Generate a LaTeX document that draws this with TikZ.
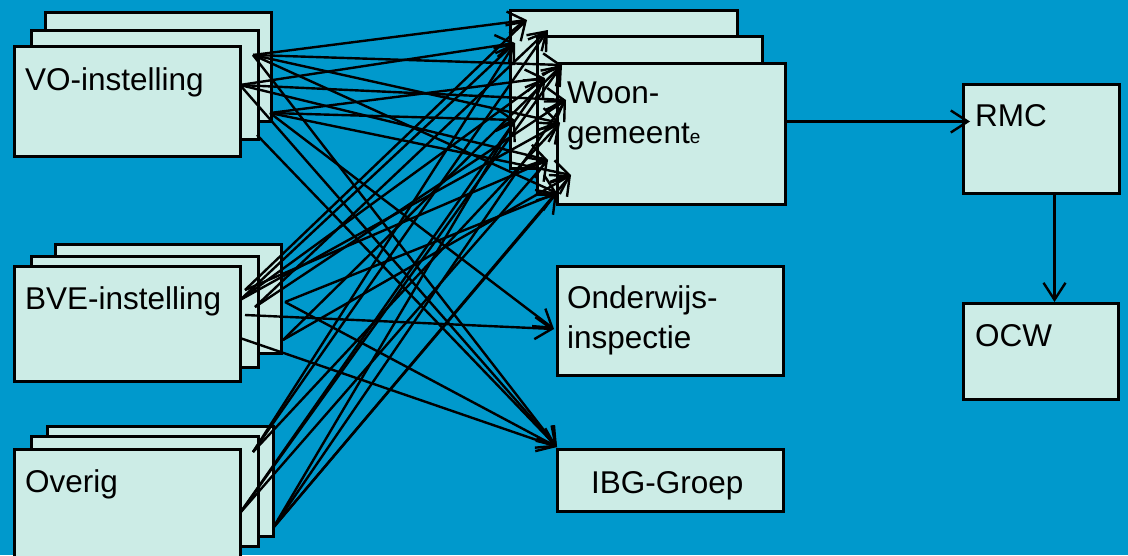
\documentclass[tikz,border=0pt]{standalone}
\usepackage{fontspec}
\setmainfont{Liberation Sans}
\usetikzlibrary{arrows.meta}
\definecolor{bgblue}{HTML}{0099CC}
\definecolor{boxfill}{HTML}{CCECE6}
\begin{document}
\begin{tikzpicture}[x=1pt,y=-1pt,
  box/.style={draw=black, line width=3pt, fill=boxfill, inner sep=0pt, anchor=north west},
  lbl/.style={anchor=base west, inner sep=0pt, font=\fontsize{31.5}{37}\selectfont},
  arr/.style={line width=2.4pt, -{Straight Barb[length=17pt,width=22pt,line width=2.4pt]}}]
\fill[bgblue] (0,0) rectangle (1128,555);
\useasboundingbox (0,0) rectangle (1128,555);
\begin{scope}
\clip (0,0) rectangle (1128,555);
% VO stack
\node[box, minimum width=226pt, minimum height=109pt] (vo3) at (44,11) {};
\node[box, minimum width=227pt, minimum height=109pt] (vo2) at (30,29) {};
\node[box, minimum width=226pt, minimum height=110pt] (vo1) at (13,45) {};
% BVE stack
\node[box, minimum width=226pt, minimum height=109pt] (bve3) at (54,243) {};
\node[box, minimum width=227pt, minimum height=111pt] (bve2) at (30,255) {};
\node[box, minimum width=226pt, minimum height=115pt] (bve1) at (13,265) {};
% Overig stack
\node[box, minimum width=226pt, minimum height=110pt] (ov3) at (46,425) {};
\node[box, minimum width=227pt, minimum height=110pt] (ov2) at (30,435) {};
\node[box, minimum width=226pt, minimum height=125pt] (ov1) at (13,448) {};
% Woon stack
\node[box, minimum width=227pt, minimum height=158pt] (wo3) at (509,9) {};
\node[box, minimum width=225pt, minimum height=158pt] (wo2) at (536,35) {};
\node[box, minimum width=228pt, minimum height=141pt] (wo1) at (556,62) {};
% other boxes
\node[box, minimum width=226pt, minimum height=109pt] (ond) at (556,265) {};
\node[box, minimum width=226pt, minimum height=62pt] (ibg) at (556,448) {};
\node[box, minimum width=156pt, minimum height=109pt] (rmc) at (962,83) {};
\node[box, minimum width=155pt, minimum height=96pt] (ocw) at (962,302) {};
\end{scope}
% labels
\node[lbl] (tvo) at (25,90) {VO-instelling};
\node[lbl] (tbve) at (25,309) {BVE-instelling};
\node[lbl] (tov) at (25,492) {Overig};
\node[lbl] (tw1) at (567,103) {Woon-};
\node[lbl] (tw2) at (567,143) {gemeent{\fontsize{19}{22}\selectfont e}};
\node[lbl] (to1) at (567,308) {Onderwijs-};
\node[lbl] (to2) at (567,348) {inspectie};
\node[lbl] (tibg) at (591,493) {IBG-Groep};
\node[lbl] (trmc) at (975,126) {RMC};
\node[lbl] (tocw) at (975,346) {OCW};
% source points
\coordinate (v1) at (253,55);
\coordinate (v2) at (240,85);
\coordinate (v3) at (270,113);
\coordinate (v4) at (257,135);
\coordinate (b1) at (240,300);
\coordinate (b2) at (245,290);
\coordinate (b3) at (255,307);
\coordinate (b4) at (285,302);
\coordinate (b5) at (283,340);
\coordinate (b6) at (245,315);
\coordinate (b7) at (240,338);
\coordinate (o1) at (253,452);
\coordinate (o2) at (240,513);
\coordinate (o3) at (273,528);
% target points
\coordinate (ta) at (527,20);
\coordinate (tb) at (515,43);
\coordinate (tc) at (548,30);
\coordinate (td) at (562,65);
\coordinate (te) at (545,78);
\coordinate (tf) at (566,100);
\coordinate (tg) at (515,120);
\coordinate (th) at (560,123);
\coordinate (ti) at (548,160);
\coordinate (tj) at (571,175);
\coordinate (tk) at (557,193);
\coordinate (ton) at (554,329);
\coordinate (tib) at (557,447);
% connectors
\foreach \s/\t in {v1/ta, v1/td, v1/th, v1/tk, v1/tib,
                   v2/tb, v2/tf, v2/ti, v2/tib,
                   v3/te, v3/tg, v3/tj, v3/ton,
                   v4/tib,
                   b1/tb, b1/te, b1/th,
                   b2/ta, b2/ti,
                   b3/tc, b3/tf,
                   b4/tib, b4/tk,
                   b5/td, b5/tj,
                   b6/ton,
                   b7/tib,
                   o1/tb, o1/tc, o1/th,
                   o2/te, o2/td, o2/ti,
                   o3/tg, o3/tj, o3/tk, o3/tf}
  \draw[arr] (\s) -- (\t);
\draw[arr] ([yshift=12.5pt]wo1.east) -- ([xshift=8pt,yshift=17.5pt]rmc.west);
\draw[arr] ([xshift=13pt]rmc.south) -- ([xshift=13.5pt]ocw.north);
\end{tikzpicture}
\end{document}
